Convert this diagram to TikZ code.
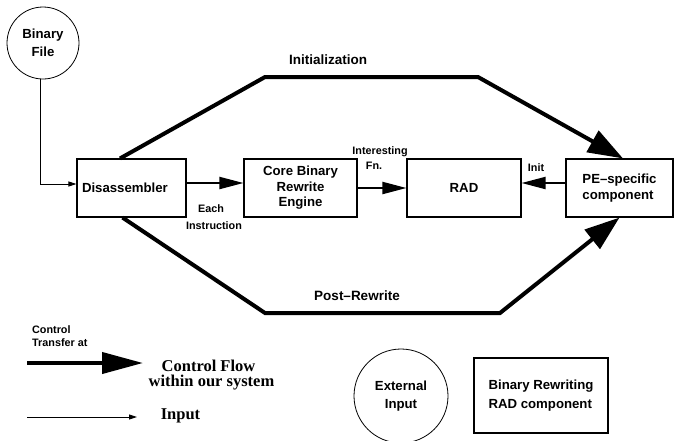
\documentclass[tikz,border=0pt]{standalone}
\usepackage{fontspec}
\setmainfont{Liberation Serif}
\newfontfamily\hv[Ligatures=TeX]{Liberation Sans}
\usetikzlibrary{arrows.meta,calc}
\tikzset{
  box/.style={draw,line width=1.1pt,minimum height=58pt,inner sep=0pt,align=left,font=\hv\bfseries\fontsize{13.2}{15.5}\selectfont},
  circ/.style={draw,circle,line width=0.8pt,inner sep=0pt,align=center,font=\hv\bfseries\fontsize{13.2}{17.5}\selectfont},
  lbl/.style={font=\hv\bfseries\fontsize{10.8}{12.5}\selectfont,inner sep=0pt,align=left},
  biglbl/.style={font=\hv\bfseries\fontsize{13.5}{15}\selectfont,inner sep=0pt},
  leg/.style={font=\bfseries\fontsize{16.5}{17}\selectfont,inner sep=0pt},
  medarrow/.style={line width=2pt,-{Triangle[length=24pt,width=12pt]}},
  thickarrow/.style={line width=4pt,-{Triangle[length=35pt,width=24pt]}},
  legarrow/.style={line width=4pt,-{Triangle[length=41pt,width=21pt]}},
  thinarrow/.style={line width=0.9pt,-{Triangle[length=8pt,width=5pt]}},
}
\begin{document}
\begin{tikzpicture}[x=1pt,y=-1pt]
\useasboundingbox (0,0) rectangle (674,440);
% nodes
\node[circ,minimum size=72pt] (bf) at (43,43) {Binary\\File};
\node[box,minimum width=109pt,text width=99pt,inner xsep=5pt] (dis) at (131.5,188) {Disassembler};
\node[box,minimum width=113pt,align=center] (core) at (300.5,188) {Core Binary\\Rewrite\\Engine};
\node[box,minimum width=114pt] (rad) at (464,188) {RAD};
\node[box,minimum width=107pt] (pe) at (619.5,188) {PE--specific\\component};
% connectors
\coordinate (bfc) at (40,184);
\draw[thinarrow] ([xshift=-3pt]bf.south) -- (bfc) -- (dis.west |- bfc);
\draw[medarrow] ([yshift=5pt]dis.east) -- ([yshift=5pt]core.west);
\draw[medarrow] (core.east) -- (rad.west);
\draw[medarrow] ([yshift=5pt]pe.west) -- ([yshift=5pt]rad.east);
\coordinate (i1) at (265,77);
\coordinate (i2) at (478,77);
\draw[thickarrow] ([xshift=-11.5pt]dis.north) -- (i1) -- (i2) -- ([xshift=3.5pt]pe.north);
\coordinate (p1) at (265,313);
\coordinate (p2) at (500,313);
\draw[thickarrow] ([xshift=-9pt]dis.south) -- (p1) -- (p2) -- ([xshift=0pt]pe.south);
% labels
\node[biglbl] (linit) at (328,60) {Initialization};
\node[biglbl] (lpost) at (357,296) {Post--Rewrite};
\node[lbl] (leach) at (211,209) {Each};
\node[lbl] (linstr) at (214,226) {Instruction};
\node[lbl] (lint) at (380,152) {Interesting};
\node[lbl] (lfn) at (374,166) {Fn.};
\node[lbl] (linit2) at (536,168) {Init};
% legend
\node[lbl,anchor=west] (lct) at (32,336) {Control\\Transfer at};
\coordinate (la1) at (27,363);
\coordinate (la2) at (143,363);
\draw[legarrow] (la1) -- (la2);
\node[leg] (lcf) at (208.5,366) {Control Flow};
\node[leg] (lws) at (211.5,383) {within our system};
\coordinate (lb1) at (27,417);
\coordinate (lb2) at (137,417);
\draw[thinarrow] (lb1) -- (lb2);
\node[leg] (lin) at (180.5,416) {Input};
\node[circ,minimum size=94pt] (ext) at (401,396) {External\\Input};
\node[box,minimum width=134pt,minimum height=75pt,font=\hv\bfseries\fontsize{13.2}{19}\selectfont] (brr) at (541,395.5) {Binary Rewriting\\RAD component};
\end{tikzpicture}
\end{document}
